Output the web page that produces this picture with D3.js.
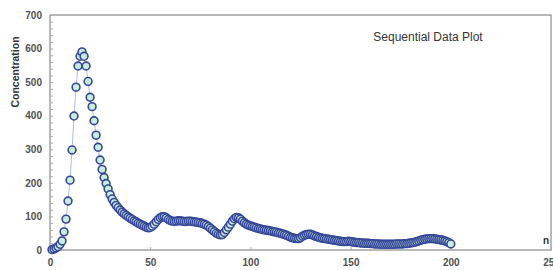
<!DOCTYPE html>
<html>
<head>
<meta charset="utf-8">
<script src="https://cdn.jsdelivr.net/npm/d3@7"></script>
<style>
  body { margin: 0; background: #fff; }
  svg { display: block; }
</style>
</head>
<body>
<svg width="553" height="270"></svg>
<script>
// concentration values for n = 1..200
var conc = [
    1, 3, 6, 10, 17, 27, 54, 92, 146, 208,
    298, 399, 485, 548, 577, 590, 577, 548, 502, 455,
    427, 385, 342, 306, 268, 240, 216, 198, 182, 165,
    152, 142, 133, 126, 119, 113, 108, 103, 99, 95,
    91, 87, 84, 80, 77, 74, 71, 68, 66, 67,
    71, 77, 84, 91, 96, 99, 99, 96, 91, 88,
    86, 85, 86, 87, 87, 86, 85, 85, 86, 86,
    85, 84, 83, 82, 81, 79, 77, 74, 70, 65,
    60, 55, 50, 47, 45, 46, 52, 60, 68, 77,
    86, 93, 97, 96, 92, 86, 81, 77, 74, 72,
    70, 68, 66, 64, 63, 61, 60, 59, 58, 57,
    55, 54, 53, 51, 50, 48, 46, 44, 41, 38,
    36, 35, 34, 34, 37, 41, 44, 46, 47, 47,
    45, 42, 40, 38, 36, 35, 34, 33, 32, 31,
    30, 29, 28, 27, 26, 25, 25, 25, 26, 25,
    24, 23, 22, 22, 21, 21, 20, 20, 20, 19,
    19, 18, 18, 18, 17, 17, 17, 17, 17, 17,
    17, 17, 18, 18, 18, 18, 19, 19, 20, 21,
    22, 23, 25, 27, 29, 31, 32, 33, 34, 34,
    34, 33, 32, 31, 30, 29, 27, 25, 22, 18
];
var xTicks = [0, 50, 100, 150, 200, 250];
var yTicks = [0, 100, 200, 300, 400, 500, 600, 700];
var title = "Sequential Data Plot";
var yTitle = "Concentration";
var xTitle = "n";

var points = conc.map((v, i) => ({ n: i + 1, v: v }));

var svg = d3.select('svg');
var plotL = 50, plotR = 551, plotT = 15, plotB = 250;

var x = d3.scaleLinear().domain([0, 250]).range([plotL, plotR]);
var y = d3.scaleLinear().domain([0, 700]).range([plotB, plotT]);

function createG(node, name) {
    return node.append('g').attr('class', name);
}

var font = "'Liberation Sans', Arial, sans-serif";

// frame
svg.append('rect')
    .attr('x', plotL).attr('y', plotT)
    .attr('width', plotR - plotL).attr('height', plotB - plotT)
    .style('fill', 'none')
    .style('stroke', '#8a8a8a')
    .style('stroke-width', 1.2);

// y axis, ticks pointing inward
var yAxisG = createG(svg, 'yAxis').attr('transform', 'translate(' + plotL + ',0)');
yAxisG.call(d3.axisRight(y).tickValues(d3.range(0, 701, 20)).tickSize(3).tickFormat(''));
yAxisG.select('.domain').remove();
yAxisG.selectAll('line').style('stroke', '#aaa');

var yLab = createG(svg, 'yLabels').attr('transform', 'translate(' + plotL + ',0)');
yLab.call(d3.axisLeft(y).tickValues(yTicks).tickSize(0).tickPadding(8));
yLab.select('.domain').remove();
yLab.selectAll('text')
    .style('font-family', font)
    .style('font-size', '10px')
    .style('font-weight', 'bold')
    .style('fill', '#505050');

// x axis
var xAxisG = createG(svg, 'xAxis').attr('transform', 'translate(0,' + plotB + ')');
xAxisG.call(d3.axisTop(x).tickValues(xTicks).tickSize(3).tickFormat(''));
xAxisG.select('.domain').remove();
xAxisG.selectAll('line').style('stroke', '#aaa');

var xLab = createG(svg, 'xLabels').attr('transform', 'translate(0,' + plotB + ')');
xLab.call(d3.axisBottom(x).tickValues(xTicks).tickSize(0).tickPadding(9));
xLab.select('.domain').remove();
xLab.selectAll('text')
    .style('font-family', font)
    .style('font-size', '10px')
    .style('font-weight', 'bold')
    .style('fill', '#505050');

// titles
svg.append('text')
    .attr('x', 428).attr('y', 41)
    .attr('text-anchor', 'middle')
    .style('font-family', font)
    .style('font-size', '12px')
    .style('fill', '#333')
    .text(title);

svg.append('text')
    .attr('transform', 'translate(19,72) rotate(-90)')
    .attr('text-anchor', 'middle')
    .style('font-family', font)
    .style('font-size', '10.5px')
    .style('font-weight', 'bold')
    .style('fill', '#333')
    .text(yTitle);

svg.append('text')
    .attr('x', 546).attr('y', 244)
    .attr('text-anchor', 'middle')
    .style('font-family', font)
    .style('font-size', '10px')
    .style('font-weight', 'bold')
    .style('fill', '#333')
    .text(xTitle);

// connecting line
var line = d3.line().x(d => x(d.n)).y(d => y(d.v));
svg.append('path')
    .datum(points)
    .attr('d', line)
    .style('fill', 'none')
    .style('stroke', '#b4b8ea')
    .style('stroke-width', 1);

// markers
var dotsG = createG(svg, 'dots');
dotsG.selectAll('circle')
    .data(points)
    .enter()
        .append('circle')
        .attr('cx', d => x(d.n))
        .attr('cy', d => y(d.v))
        .attr('r', 3.9)
        .style('fill', '#c8eed8')
        .style('stroke', '#34469a')
        .style('stroke-width', 1.6);
</script>
</body>
</html>
